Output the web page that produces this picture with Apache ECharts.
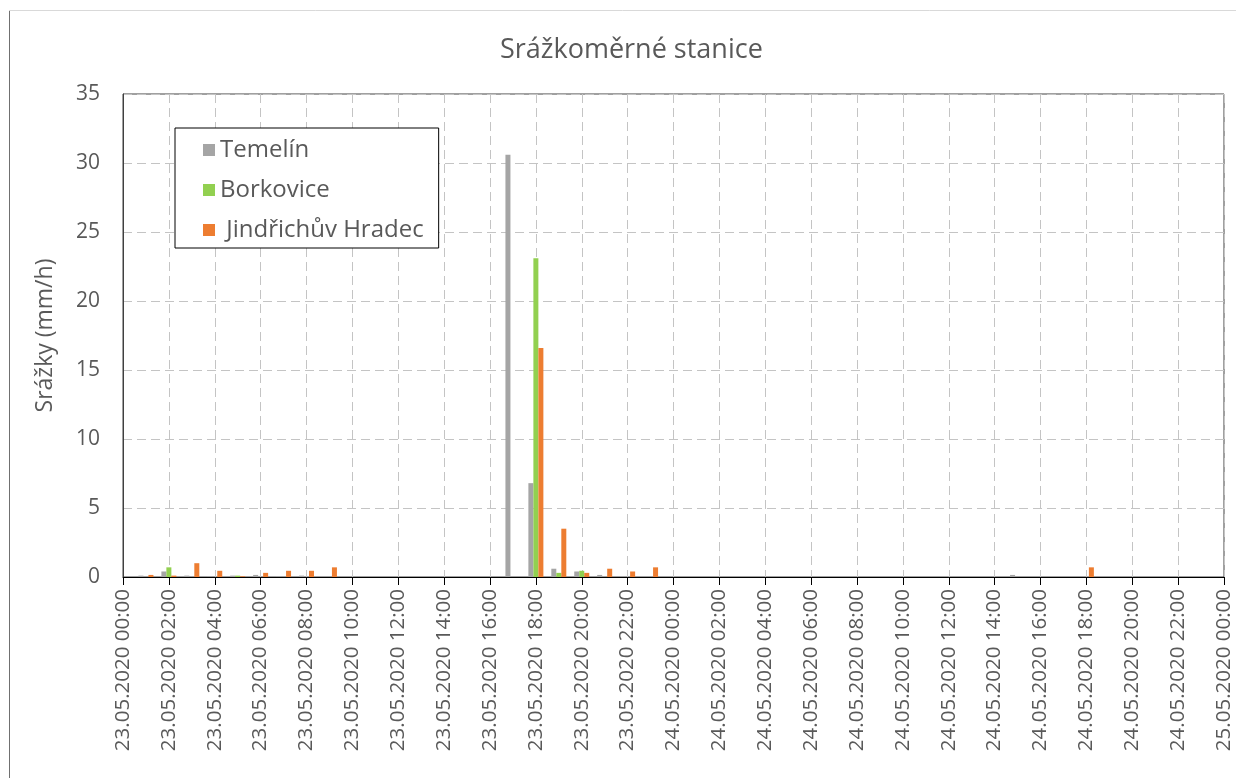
<!DOCTYPE html>
<html>
<head>
<meta charset="utf-8">
<script src="https://cdn.jsdelivr.net/npm/echarts@6/dist/echarts.min.js"></script>
<style>
  html, body { margin: 0; padding: 0; background: #fff; }
  #chart { width: 1236px; height: 778px; }
</style>
</head>
<body>
<div id="chart"></div>
<script>
// Hourly precipitation (mm/h), hour 0 = 23.05.2020 00:00
const hours = Array.from({ length: 48 }, (_, i) => i);
const temelin = [
  0, 0.1, 0.4, 0.1, 0.05, 0.1, 0.15, 0.05, 0.1, 0, 0, 0,
  0, 0, 0, 0, 0, 30.6, 6.8, 0.6, 0.4, 0.15, 0.05, 0,
  0, 0, 0, 0, 0, 0, 0, 0, 0, 0, 0, 0,
  0, 0, 0, 0.15, 0, 0, 0, 0, 0, 0, 0, 0
];
const borkovice = [
  0, 0, 0.7, 0, 0, 0.1, 0, 0, 0, 0, 0, 0,
  0, 0, 0, 0, 0, 0, 23.1, 0.3, 0.45, 0, 0, 0,
  0, 0, 0, 0, 0, 0, 0, 0, 0, 0, 0, 0,
  0, 0, 0, 0, 0, 0, 0, 0, 0, 0, 0, 0
];
const jindrichuvHradec = [
  0, 0.15, 0.1, 1.0, 0.45, 0.05, 0.3, 0.45, 0.45, 0.7, 0, 0,
  0, 0, 0, 0, 0, 0, 16.6, 3.5, 0.3, 0.6, 0.4, 0.7,
  0, 0, 0, 0, 0, 0, 0, 0, 0, 0, 0, 0,
  0, 0, 0, 0, 0, 0, 0.7, 0, 0, 0, 0, 0
];
const seriesNames = ['Temelín', 'Borkovice', ' Jindřichův Hradec'];
const seriesColors = ['#A5A5A5', '#92D050', '#ED7D31'];
const dayLabels = ['23.05.2020', '24.05.2020', '25.05.2020'];

function hourLabel(h) {
  const day = Math.floor(h / 24);
  const hh = h % 24;
  return dayLabels[day] + ' ' + String(hh).padStart(2, '0') + ':00';
}

const font = '"Open Sans", "Noto Sans", sans-serif';
const textColor = '#595959';
const gridDash = { color: '#c4c4c4', type: [9, 5], width: 1 };

const chart = echarts.init(document.getElementById('chart'), null, { renderer: 'canvas' });
const valueSets = [temelin, borkovice, jindrichuvHradec];

chart.setOption({
  backgroundColor: '#fff',
  animation: false,
  textStyle: { fontFamily: font },
  title: {
    text: 'Srážkoměrné stanice',
    left: 495,
    top: 32,
    textStyle: { fontFamily: font, fontSize: 27, fontWeight: 'normal', color: textColor }
  },
  graphic: [
    { type: 'line', shape: { x1: 9.5, y1: 10, x2: 9.5, y2: 778 }, style: { stroke: '#707070', lineWidth: 1 } },
    { type: 'line', shape: { x1: 9, y1: 10.5, x2: 1236, y2: 10.5 }, style: { stroke: '#d9d9d9', lineWidth: 1 } }
  ],
  legend: {
    orient: 'vertical',
    left: 175,
    top: 128,
    data: seriesNames,
    icon: 'rect',
    itemWidth: 12,
    itemHeight: 12,
    itemGap: 14,
    padding: [9, 15, 5, 28],
    borderColor: '#000',
    borderWidth: 1,
    backgroundColor: '#fff',
    textStyle: { fontFamily: font, fontSize: 24, color: textColor, lineHeight: 26 }
  },
  grid: {
    left: 123,
    top: 94,
    right: 12,
    bottom: 201,
    show: true,
    borderColor: '#404040',
    borderWidth: 1
  },
  xAxis: {
    type: 'value',
    min: 0,
    max: 48,
    interval: 2,
    axisLine: { show: true, lineStyle: { color: '#000', width: 1 } },
    axisTick: { show: true, length: 8, lineStyle: { color: '#000' } },
    splitLine: { show: true, lineStyle: gridDash },
    axisLabel: {
      rotate: 90,
      margin: 12,
      fontSize: 20.5,
      color: textColor,
      fontFamily: font,
      showMinLabel: true,
      showMaxLabel: true,
      formatter: (v) => hourLabel(v)
    }
  },
  yAxis: {
    type: 'value',
    min: 0,
    max: 35,
    interval: 5,
    name: 'Srážky (mm/h)',
    nameLocation: 'middle',
    nameGap: 66,
    nameTextStyle: { fontFamily: font, fontSize: 23, color: textColor },
    axisLine: { show: true, lineStyle: { color: '#404040' } },
    axisTick: { show: false },
    splitLine: { show: true, lineStyle: gridDash },
    axisLabel: { fontSize: 21, color: textColor, fontFamily: font, margin: 23 }
  },
  series: seriesNames.map((name, i) => ({
    name: name,
    type: 'bar',
    barWidth: 5,
    barGap: '0%',
    itemStyle: { color: seriesColors[i] },
    data: hours.map((h) => [h, valueSets[i][h]])
  }))
});
</script>
</body>
</html>
